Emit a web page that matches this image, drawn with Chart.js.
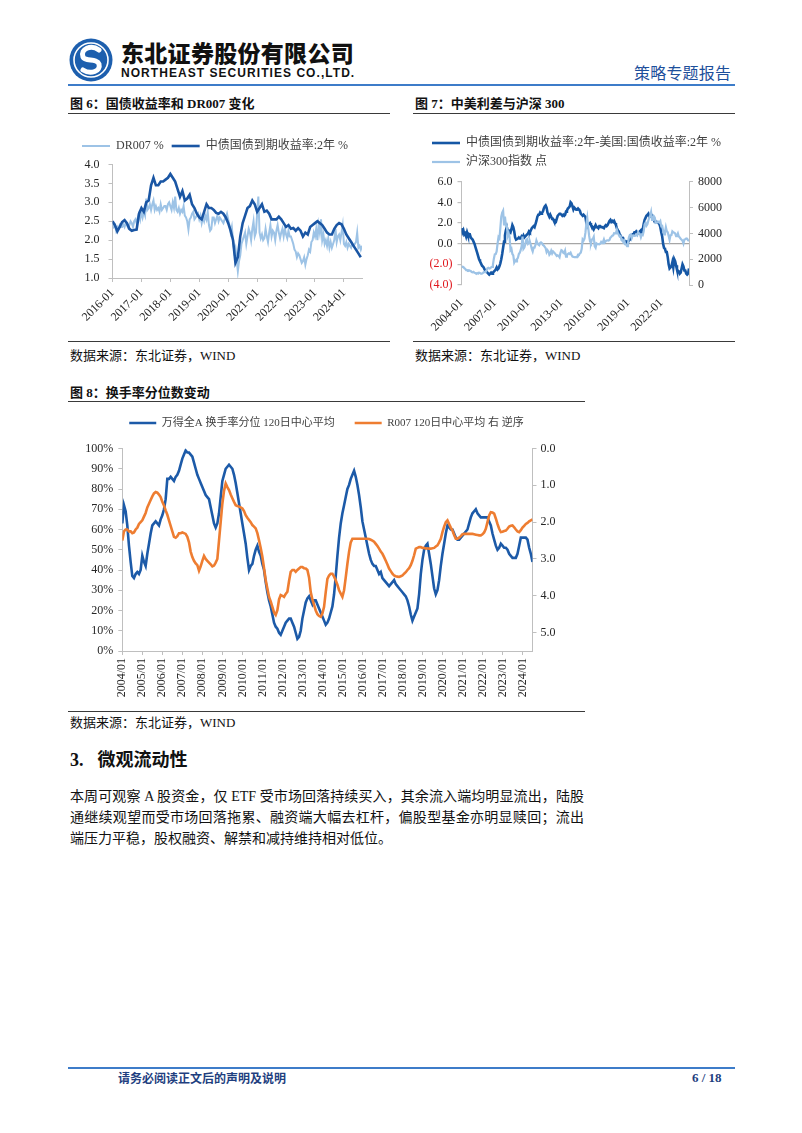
<!DOCTYPE html>
<html><head><meta charset="utf-8">
<script src="https://cdn.jsdelivr.net/npm/chart.js@4.4.1/dist/chart.umd.min.js"></script>
<style>
html,body{margin:0;padding:0;background:#fff;}
body{width:802px;height:1133px;position:relative;overflow:hidden;font-family:"Liberation Serif","Noto Sans CJK SC",serif;color:#111;}
.abs{position:absolute;white-space:nowrap;}
.title{position:absolute;font-size:13px;line-height:13px;font-weight:bold;white-space:nowrap;color:#111;}
.rule{position:absolute;height:1px;background:#3a3a3a;}
.src{position:absolute;font-size:13px;line-height:13px;white-space:nowrap;color:#111;}
canvas{position:absolute;}
.para{position:absolute;left:70px;width:514px;font-size:14px;line-height:21px;color:#111;}
.para div{white-space:nowrap;}
.para .j{text-align:justify;text-align-last:justify;white-space:normal;}
</style></head>
<body>
<!-- header -->
<svg class="abs" style="left:69px;top:38px" width="44" height="44" viewBox="0 0 44 44">
  <circle cx="22" cy="22" r="21.5" fill="#1d5fae"/>
  <circle cx="22" cy="22" r="17" fill="none" stroke="#ffffff" stroke-width="1.6"/>
  <path d="M30 12 C22 6 11 11 14 19 C16 24 28 20 30 26 C32 33 22 37 14 32" fill="none" stroke="#ffffff" stroke-width="5" stroke-linecap="round"/>
</svg>
<div class="abs" style="left:121px;top:39px;font-family:'Noto Sans CJK SC';font-weight:900;font-size:23px;line-height:26px;color:#111;letter-spacing:0.3px">东北证券股份有限公司</div>
<div class="abs" style="left:121px;top:66px;font-family:'Liberation Sans',Arial,sans-serif;font-weight:bold;font-size:12px;line-height:14px;color:#111;letter-spacing:1.05px">NORTHEAST SECURITIES CO.,LTD.</div>
<div class="abs" style="left:634px;top:63px;font-family:'Noto Sans CJK SC';font-size:16px;line-height:18px;color:#1d4f9b;letter-spacing:0.2px">策略专题报告</div>
<div class="abs" style="left:68px;top:84px;width:667px;height:2px;background:#3d7cc9"></div>

<!-- figure 6 -->
<div class="title" style="left:70px;top:97px">图 6：国债收益率和 DR007 变化</div>
<div class="rule" style="left:68px;top:113px;width:322px"></div>
<canvas id="c6" width="322" height="222" style="left:68px;top:118px;width:322px;height:222px"></canvas>
<div class="rule" style="left:68px;top:341px;width:322px"></div>
<div class="src" style="left:70px;top:349px">数据来源：东北证券，WIND</div>

<!-- figure 7 -->
<div class="title" style="left:415px;top:97px">图 7：中美利差与沪深 300</div>
<div class="rule" style="left:413px;top:113px;width:322px"></div>
<canvas id="c7" width="327" height="222" style="left:413px;top:118px;width:327px;height:222px"></canvas>
<div class="rule" style="left:413px;top:341px;width:322px"></div>
<div class="src" style="left:415px;top:349px">数据来源：东北证券，WIND</div>

<!-- figure 8 -->
<div class="title" style="left:70px;top:386px">图 8：换手率分位数变动</div>
<div class="rule" style="left:68px;top:401px;width:517px"></div>
<canvas id="c8" width="517" height="315" style="left:68px;top:395px;width:517px;height:315px"></canvas>
<div class="rule" style="left:68px;top:711px;width:517px"></div>
<div class="src" style="left:70px;top:716px">数据来源：东北证券，WIND</div>

<!-- section -->
<div class="abs" style="left:70px;top:750px;font-size:18px;line-height:20px;font-weight:bold;color:#111"><span>3.</span><span style="margin-left:14px">微观流动性</span></div>
<div class="para" style="top:786px">
  <div class="j">本周可观察 A 股资金，仅 ETF 受市场回落持续买入，其余流入端均明显流出，陆股</div>
  <div class="j">通继续观望而受市场回落拖累、融资端大幅去杠杆，偏股型基金亦明显赎回；流出</div>
  <div>端压力平稳，股权融资、解禁和减持维持相对低位。</div>
</div>

<!-- footer -->
<div class="abs" style="left:68px;top:1067px;width:667px;height:2px;background:#3d7cc9"></div>
<div class="abs" style="left:118px;top:1071px;font-family:'Noto Sans CJK SC';font-weight:bold;font-size:12px;line-height:14px;color:#1f3f7f">请务必阅读正文后的声明及说明</div>
<div class="abs" style="left:692px;top:1071px;font-weight:bold;font-size:13px;line-height:14px;color:#1f3f7f">6 / 18</div>

<script>
// ---------- Figure 6 data (2016-01 .. 2024-08) ----------
const ticks6Years = [2016, 2017, 2018, 2019, 2020, 2021, 2022, 2023, 2024];
const ticks6Labels = ['2016-01','2017-01','2018-01','2019-01','2020-01','2021-01','2022-01','2023-01','2024-01'];
// DR007 %, two readings per month
const dr007 = [
  2.45,2.35,2.40,2.25,2.35,2.30,2.40,2.35,2.35,2.42,2.35,2.45,2.40,2.33,2.40,2.50,2.45,2.35,2.50,2.55,2.45,2.60,2.70,2.55,
  2.75,2.60,2.75,2.65,3.10,2.80,2.85,2.95,2.80,2.95,3.05,2.80,2.90,2.80,2.85,2.75,2.95,2.80,2.85,2.90,2.90,2.80,2.95,3.00,
  2.90,2.80,3.00,2.85,3.15,2.80,2.75,2.85,2.70,2.80,2.75,2.90,2.65,2.60,2.50,2.28,2.55,2.60,2.70,2.75,2.55,2.60,2.65,2.70,
  2.55,2.65,2.45,2.60,2.50,2.65,2.55,2.75,2.40,2.25,2.30,2.60,2.60,2.45,2.55,2.65,2.50,2.60,2.55,2.50,2.45,2.55,2.60,2.70,
  2.55,2.40,2.20,2.35,2.00,1.70,1.80,1.50,1.18,1.45,1.60,1.90,2.00,2.10,2.20,1.90,2.10,2.30,2.20,2.00,2.30,2.50,2.10,2.20,
  2.70,3.15,2.20,2.05,2.15,2.00,2.05,2.30,2.10,1.95,2.20,2.40,2.10,2.25,2.20,2.00,2.25,2.40,2.20,2.05,2.20,2.30,2.10,2.30,
  2.15,2.05,2.25,2.10,2.10,2.00,1.90,1.75,1.70,1.55,1.65,1.60,1.50,1.40,1.45,1.55,1.35,1.50,1.60,1.75,1.70,1.95,2.00,2.20,
  2.10,2.30,2.00,2.40,2.20,2.55,2.00,2.15,1.90,2.00,1.85,2.05,1.80,1.95,1.80,1.90,2.00,2.30,1.95,2.10,2.15,2.00,2.20,2.40,
  1.90,1.85,1.95,1.80,1.90,1.85,1.80,1.90,1.85,1.90,1.95,2.20,1.80,1.85,1.75,1.85
];
// 中债国债到期收益率:2年 %, monthly
const cgb2y = [
  2.50,2.40,2.23,2.35,2.48,2.53,2.45,2.30,2.25,2.27,2.28,2.70,
  2.85,2.75,3.00,3.05,3.45,3.65,3.45,3.45,3.55,3.55,3.60,3.65,
  3.75,3.65,3.55,3.35,3.15,3.30,3.05,3.10,3.20,2.95,2.85,2.70,
  2.60,2.55,2.75,2.95,2.85,2.85,2.80,2.72,2.70,2.75,2.70,2.60,
  2.45,2.25,2.00,1.40,1.55,2.10,2.45,2.65,2.85,2.90,3.05,2.95,
  2.75,2.85,2.95,2.75,2.78,2.70,2.55,2.55,2.55,2.62,2.55,2.45,
  2.35,2.40,2.30,2.32,2.25,2.32,2.25,2.10,2.20,2.15,2.35,2.40,
  2.45,2.50,2.45,2.40,2.30,2.20,2.15,2.15,2.30,2.40,2.45,2.42,
  2.30,2.15,2.05,1.95,1.85,1.75,1.65,1.55
];

// ---------- Figure 7 data (2004-01 .. 2024-07, monthly) ----------
const ticks7Years = [2004, 2007, 2010, 2013, 2016, 2019, 2022];
const ticks7Labels = ['2004-01','2007-01','2010-01','2013-01','2016-01','2019-01','2022-01'];
const spread = [
  1.5,1.1,1.3,0.9,1.0,0.7,1.1,0.8,0.9,0.9,0.6,0.5,
  0.4,0.2,0.0,-0.3,-0.6,-0.9,-1.2,-1.5,-1.7,-1.9,-2.1,-2.2,
  -2.3,-2.5,-2.6,-2.7,-2.8,-2.9,-3.0,-2.9,-2.8,-2.9,-2.8,-2.7,
  -2.6,-2.5,-2.3,-2.5,-2.4,-2.2,-1.9,-1.5,-1.0,-0.4,0.2,0.8,
  1.3,1.6,1.2,1.0,1.2,1.1,1.4,1.8,1.6,1.2,0.6,0.4,
  0.4,0.5,0.6,0.5,0.5,0.7,0.6,0.8,0.6,0.7,0.8,0.9,
  1.0,1.2,1.1,1.3,1.5,1.6,1.7,1.6,1.9,2.2,2.6,2.8,
  2.8,3.0,2.9,3.0,3.1,3.4,3.6,3.7,3.5,3.0,2.8,2.6,
  2.8,2.6,2.4,2.4,2.2,2.0,2.1,2.4,2.7,2.8,2.9,2.9,
  2.8,2.7,2.8,2.7,2.8,3.1,3.2,3.4,3.5,3.6,4.0,3.9,
  3.6,3.3,3.5,3.4,3.3,3.3,3.4,3.3,3.2,2.9,2.8,2.7,
  2.8,2.7,2.6,2.0,1.7,1.9,1.9,2.0,1.8,1.7,1.6,1.4,
  1.6,1.8,1.6,1.6,1.5,1.7,1.7,1.6,1.6,1.6,1.5,1.7,
  1.8,1.7,1.8,2.0,2.2,2.3,2.1,2.2,2.1,2.2,2.0,1.8,
  1.5,1.3,1.2,0.9,0.8,0.6,0.4,0.5,0.3,0.1,0.2,0.1,
  0.2,0.3,0.4,0.5,0.7,0.9,0.9,1.1,1.1,1.2,1.1,1.0,
  1.0,1.2,1.3,1.1,1.4,1.9,2.3,2.5,2.7,2.8,2.9,2.6,
  2.6,2.6,2.7,2.5,2.4,2.3,2.1,2.1,2.1,2.0,1.9,1.6,
  1.1,0.7,0.0,-0.4,-0.5,-0.8,-0.8,-1.3,-2.0,-2.4,-2.3,-2.2,
  -1.8,-2.3,-1.5,-1.7,-2.1,-2.5,-2.6,-2.7,-2.9,-2.8,-2.4,-2.0,
  -2.2,-2.6,-2.6,-2.9,-3.0,-2.9,-2.4
];
const csi300 = [
  1350,1420,1400,1300,1250,1150,1150,1120,1150,1100,1080,1000,
  980,1020,950,930,870,920,880,960,920,890,880,920,
  990,1010,1000,1120,1300,1330,1270,1300,1360,1410,1580,2040,
  2380,2400,2600,3200,3700,3600,4400,5300,5600,5750,4700,5300,
  4600,4600,3800,4000,3700,2700,2800,2400,2300,1750,1900,1820,
  2000,2100,2400,2500,2700,3000,3750,2800,2900,3150,3500,3550,
  3200,3300,3350,3100,2800,2600,2900,2900,3100,3450,3250,3130,
  3080,3250,3300,3250,3100,3050,2950,2850,2550,2700,2600,2350,
  2450,2650,2450,2600,2600,2450,2350,2250,2300,2250,2150,2500,
  2700,2650,2500,2450,2650,2200,2300,2400,2450,2400,2500,2330,
  2200,2180,2150,2160,2160,2170,2350,2340,2450,2510,2800,3530,
  3430,3580,4050,4750,5200,4470,3820,3370,3250,3530,3570,3730,
  3000,2880,3220,3160,3170,3150,3200,3330,3250,3340,3530,3310,
  3390,3450,3460,3440,3490,3670,3740,3820,3840,4010,4000,4030,
  4280,4020,3900,3760,3800,3510,3520,3330,3440,3150,3140,3010,
  3200,3670,3870,3910,3630,3830,3840,3800,3810,3890,3830,4100,
  3990,3940,3690,3910,3870,4160,4700,4820,4590,4700,4980,5210,
  5350,5650,5050,5120,5330,5220,4810,4820,4870,4900,4830,4940,
  4560,4580,4220,3920,4090,4480,4170,4080,3800,3500,3850,3870,
  4150,4080,4050,3990,3790,3840,4000,3760,3690,3570,3500,3430,
  3220,3520,3540,3600,3580,3460,3440
];

// ---------- Figure 8 data (2004-01 .. 2024-07, monthly) ----------
const ticks8Years = [2004,2005,2006,2007,2008,2009,2010,2011,2012,2013,2014,2015,2016,2017,2018,2019,2020,2021,2022,2023,2024];
const ticks8Labels = ['2004/01','2005/01','2006/01','2007/01','2008/01','2009/01','2010/01','2011/01','2012/01','2013/01','2014/01','2015/01','2016/01','2017/01','2018/01','2019/01','2020/01','2021/01','2022/01','2023/01','2024/01'];
const r007Ticks = [0, 1, 2, 3, 4, 5];
// 万得全A 换手率分位 120日中心平均 (%)
const turnoverPct = [
  63,72,69,62,52,44,37,36,38,39,38,40,
  47,44,42,48,53,58,62,63,64,63,62,65,
  67,70,75,85,85,86,85,84,86,87,89,92,
  95,97,99,98,98,97,96,93,90,87,85,83,
  81,79,77,76,75,71,67,63,61,63,68,76,
  84,87,90,91,92,91,90,87,83,78,73,68,
  63,58,53,46,40,42,43,47,50,52,49,47,
  43,40,34,29,25,22,18,14,12,11,9,8,
  10,12,14,15,16,16,14,12,9,6,7,10,
  16,20,24,26,27,25,23,25,25,23,21,19,
  17,15,13,14,16,19,22,28,37,47,56,63,
  68,72,76,80,82,85,87,89,86,82,77,71,
  64,60,56,52,48,45,43,42,42,40,38,39,
  36,35,34,33,32,33,34,35,33,32,31,30,
  29,28,27,25,22,18,15,17,19,21,28,38,
  45,50,52,53,48,43,37,31,28,30,35,42,
  48,53,58,62,61,60,60,58,56,55,55,56,
  57,58,59,60,63,66,68,69,70,68,67,66,
  66,66,66,66,64,62,58,55,52,50,51,53,
  52,51,51,50,48,47,46,46,46,48,52,56,
  56,56,56,55,51,48,44
];
// R007 120日中心平均 (右 逆序)
const r007 = [
  2.50,2.25,2.20,2.20,2.25,2.25,2.30,2.28,2.20,2.15,2.05,2.00,
  1.95,1.85,1.75,1.60,1.50,1.40,1.30,1.22,1.18,1.20,1.25,1.32,
  1.45,1.55,1.68,1.80,1.95,2.10,2.25,2.40,2.42,2.38,2.30,2.30,
  2.28,2.30,2.32,2.40,2.55,2.80,2.95,3.05,3.12,3.17,3.32,3.20,
  3.05,2.92,3.00,3.05,3.10,3.15,3.20,3.18,3.10,3.00,2.50,2.00,
  1.50,1.15,0.95,1.05,1.13,1.25,1.35,1.45,1.54,1.56,1.58,1.60,
  1.63,1.70,1.81,1.88,1.94,2.00,2.08,2.12,2.17,2.30,2.49,2.70,
  2.94,3.25,3.57,3.80,4.03,4.15,4.30,4.45,4.52,4.39,4.10,3.98,
  4.00,4.03,3.95,3.89,3.60,3.35,3.30,3.30,3.35,3.30,3.26,3.22,
  3.22,3.25,3.26,3.30,3.50,3.90,4.10,4.25,4.40,4.50,4.55,4.57,
  4.48,4.30,3.90,3.54,3.45,3.40,3.40,3.48,3.58,3.70,3.85,3.94,
  4.03,3.85,3.50,3.13,2.80,2.55,2.45,2.45,2.45,2.45,2.45,2.45,
  2.45,2.45,2.45,2.45,2.46,2.48,2.50,2.53,2.59,2.65,2.72,2.80,
  2.86,2.95,3.05,3.15,3.26,3.33,3.40,3.45,3.47,3.48,3.49,3.47,
  3.45,3.40,3.36,3.30,3.25,3.17,3.05,2.90,2.72,2.70,2.68,2.68,
  2.70,2.70,2.72,2.71,2.72,2.72,2.71,2.70,2.66,2.63,2.55,2.45,
  2.27,2.12,2.00,1.95,2.05,2.15,2.23,2.35,2.45,2.45,2.42,2.38,
  2.33,2.32,2.32,2.32,2.32,2.32,2.32,2.33,2.34,2.35,2.36,2.36,
  2.33,2.28,2.18,2.00,1.82,1.73,1.74,1.77,1.90,2.05,2.18,2.27,
  2.26,2.24,2.23,2.18,2.12,2.10,2.09,2.14,2.20,2.25,2.27,2.22,
  2.15,2.10,2.05,2.02,1.98,1.95,1.93
];

// ---------- helpers ----------
Chart.defaults.font.family = '"Liberation Serif", "Noto Sans CJK SC", serif';
Chart.defaults.font.size = 12;
Chart.defaults.color = '#262626';
Chart.defaults.animation = false;

function spacer(h) {
  return {
    id: 'spacer',
    beforeInit(chart) {
      const box = {
        position: 'top', weight: 1, fullSize: true, options: {},
        top: 0, left: 0, right: 0, bottom: 0, width: 0, height: h,
        update(w) { this.width = w; this.height = h; },
        isHorizontal() { return true; },
        getPadding() { return {top: 0, left: 0, right: 0, bottom: 0}; },
        draw() {}
      };
      Chart.layouts.addBox(chart, box);
    }
  };
}
const monthly = (arr, start, perYear) => arr.map((v, i) => ({x: start + i / perYear, y: v}));
const AX = '#bfbfbf';
const axisGrid = {drawOnChartArea: false, tickLength: 4, tickColor: AX, lineWidth: 1};
const legendSort = (a, b) => a.datasetIndex - b.datasetIndex;

// ---------- Figure 6 ----------
new Chart(document.getElementById('c6'), {
  type: 'line',
  data: {datasets: [
    {label: 'DR007 %', data: monthly(dr007, 2016, 24), borderColor: '#9dc3e6', backgroundColor: '#9dc3e6', borderWidth: 2, pointRadius: 0, order: 1},
    {label: '中债国债到期收益率:2年 %', data: monthly(cgb2y, 2016, 12), borderColor: '#1a56a4', backgroundColor: '#1a56a4', borderWidth: 2.6, pointRadius: 0, order: 0}
  ]},
  options: {
    responsive: false, animation: false,
    layout: {padding: {top: 14, right: 28, left: 0, bottom: 0}},
    plugins: {
      legend: {labels: {usePointStyle: true, pointStyle: 'line', pointStyleWidth: 28, padding: 8, font: {size: 12}, color: '#404040', sort: legendSort}},
      tooltip: {enabled: false}
    },
    scales: {
      x: {type: 'linear', min: 2016, max: 2024.625,
          afterBuildTicks: s => { s.ticks = ticks6Years.map(v => ({value: v})); },
          ticks: {autoSkip: false, minRotation: 45, maxRotation: 45, padding: 4, callback: (v, i) => ticks6Labels[i]},
          grid: axisGrid, border: {color: AX}, afterFit: s => { s.height = 62; }},
      y: {min: 1, max: 4, ticks: {stepSize: 0.5, padding: 9, callback: v => v.toFixed(1)},
          grid: axisGrid, border: {color: AX}, afterFit: s => { s.width = 44.5; }}
    }
  },
  plugins: [spacer(2.5)]
});

// ---------- Figure 7 ----------
new Chart(document.getElementById('c7'), {
  type: 'line',
  data: {datasets: [
    {label: '中债国债到期收益率:2年-美国:国债收益率:2年 %', data: monthly(spread, 2004, 12), yAxisID: 'y', borderColor: '#1557a5', backgroundColor: '#1557a5', borderWidth: 2.6, pointRadius: 0, order: 1},
    {label: '沪深300指数 点', data: monthly(csi300, 2004, 12), yAxisID: 'y1', borderColor: '#9dc3e6', backgroundColor: '#9dc3e6', borderWidth: 2.2, pointRadius: 0, order: 0}
  ]},
  options: {
    responsive: false, animation: false,
    layout: {padding: {top: 12, right: 0, left: 12, bottom: 0}},
    plugins: {
      legend: {align: 'start', labels: {usePointStyle: true, pointStyle: 'line', pointStyleWidth: 28, padding: 7, font: {size: 12}, color: '#404040', sort: legendSort}},
      tooltip: {enabled: false}
    },
    scales: {
      x: {type: 'linear', min: 2004, max: 2024.5,
          afterBuildTicks: s => { s.ticks = ticks7Years.map(v => ({value: v})); },
          ticks: {autoSkip: false, minRotation: 45, maxRotation: 45, padding: 11, callback: (v, i) => ticks7Labels[i]},
          grid: {display: false, drawTicks: false}, border: {display: false}, afterFit: s => { s.height = 55; }},
      y: {position: 'left', min: -4, max: 6,
          ticks: {stepSize: 2, padding: 5,
                  callback: v => v < 0 ? '(' + Math.abs(v).toFixed(1) + ')' : v.toFixed(1),
                  color: c => c.tick && c.tick.value < 0 ? '#e0161c' : '#262626'},
          grid: {drawOnChartArea: true, color: c => (c.tick && c.tick.value === 0) ? '#a6a6a6' : 'rgba(0,0,0,0)', tickLength: 4, tickColor: AX, lineWidth: 1.2},
          border: {color: AX}, afterFit: s => { s.width = 36.5; }},
      y1: {position: 'right', min: 0, max: 8000, ticks: {stepSize: 2000, padding: 5, callback: v => String(v)},
           grid: axisGrid, border: {color: AX}, afterFit: s => { s.width = 51; }}
    }
  },
  plugins: [spacer(3.7)]
});

// ---------- Figure 8 ----------
new Chart(document.getElementById('c8'), {
  type: 'line',
  data: {datasets: [
    {label: '万得全A 换手率分位 120日中心平均', data: monthly(turnoverPct, 2004, 12), yAxisID: 'y', borderColor: '#1c5aa8', backgroundColor: '#1c5aa8', borderWidth: 2.6, pointRadius: 0, order: 1},
    {label: 'R007 120日中心平均 右 逆序', data: monthly(r007, 2004, 12), yAxisID: 'y1', borderColor: '#ee7d31', backgroundColor: '#ee7d31', borderWidth: 2.6, pointRadius: 0, order: 0}
  ]},
  options: {
    responsive: false, animation: false,
    layout: {padding: {top: 2.5, right: 0, left: 0, bottom: 0}},
    plugins: {
      legend: {labels: {usePointStyle: true, pointStyle: 'line', pointStyleWidth: 27, padding: 20, font: {size: 11}, color: '#404040', sort: legendSort}},
      tooltip: {enabled: false}
    },
    scales: {
      x: {type: 'linear', min: 2004, max: 2024.5,
          afterBuildTicks: s => { s.ticks = ticks8Years.map(v => ({value: v})); },
          ticks: {autoSkip: false, minRotation: 90, maxRotation: 90, padding: 3, callback: (v, i) => ticks8Labels[i]},
          grid: axisGrid, border: {color: AX}, afterFit: s => { s.height = 59; }},
      y: {position: 'left', min: 0, max: 100, ticks: {stepSize: 10, padding: 5, callback: v => v + '%'},
          grid: axisGrid, border: {color: AX}, afterFit: s => { s.width = 54.3; }},
      y1: {position: 'right', reverse: true, min: 0, max: 5.5,
           afterBuildTicks: s => { s.ticks = r007Ticks.map(v => ({value: v})); },
           ticks: {padding: 4, callback: v => v.toFixed(1)},
           grid: axisGrid, border: {color: AX}, afterFit: s => { s.width = 52.5; }}
    }
  },
  plugins: [spacer(10)]
});
</script>
</body></html>
